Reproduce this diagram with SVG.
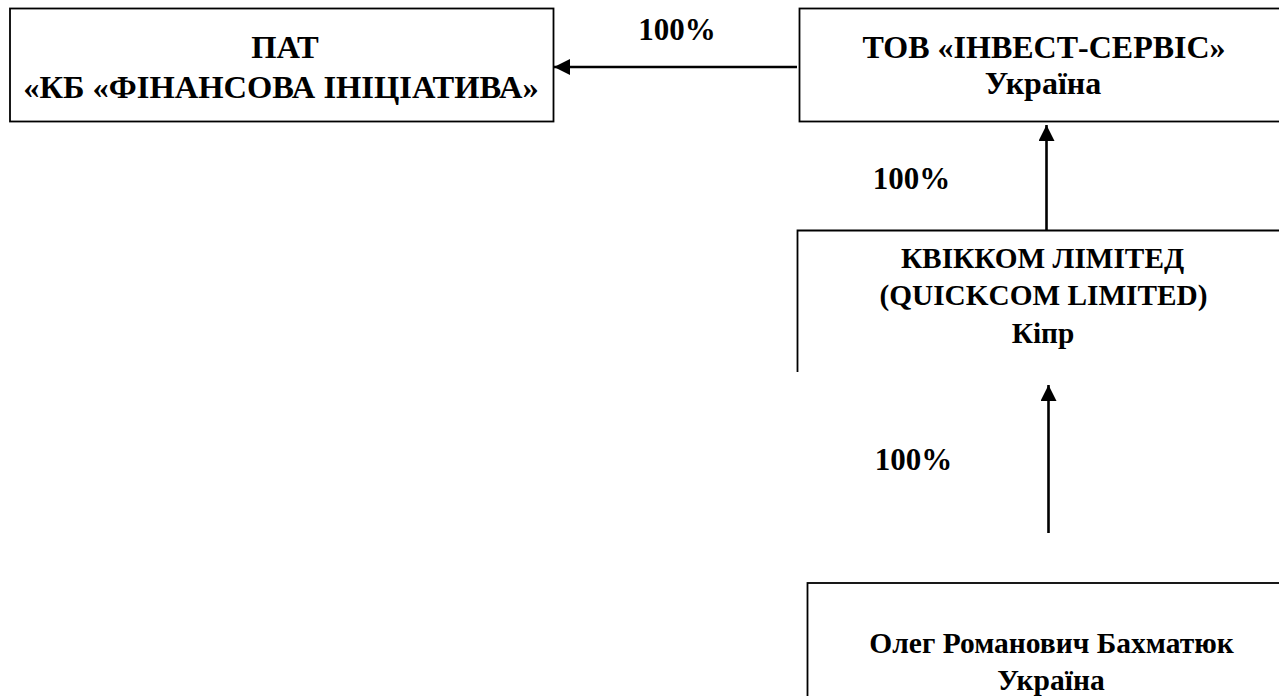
<svg xmlns="http://www.w3.org/2000/svg" width="1279" height="696" viewBox="0 0 1279 696">
<style>
.box{fill:#fff;stroke:#000;stroke-width:1.8}
.t{font-family:"Liberation Serif","Times New Roman",serif;font-weight:bold;fill:#000;text-anchor:middle}
.s1{font-size:32.5px}
.s2{font-size:32px}
.s3{font-size:29.3px}
.s4{font-size:29.5px}
.pct{font-size:31px}
.conn{stroke:#000;stroke-width:2.6;fill:none}
</style>
<defs>
<marker id="ah" viewBox="0 0 16 16" refX="16" refY="8" markerWidth="16" markerHeight="16" markerUnits="userSpaceOnUse" orient="auto">
<path d="M0,0 L16,8 L0,16 Z" fill="#000"/>
</marker>
</defs>
<rect width="1279" height="696" fill="#fff"/>
<g id="node-pat">
<rect class="box" x="10" y="8.5" width="543.5" height="113"/>
<text class="t s1" x="285" y="58">ПАТ</text>
<text class="t s1" x="281" y="98">«КБ «ФІНАНСОВА ІНІЦІАТИВА»</text>
</g>
<g id="node-tov">
<rect class="box" x="799.5" y="8.5" width="500" height="113"/>
<text class="t s2" x="1044" y="58">ТОВ «ІНВЕСТ-СЕРВІС»</text>
<text class="t s2" x="1043" y="94">Україна</text>
</g>
<g id="node-quickcom">
<path class="box" d="M797.5,372 V230.5 H1290" fill="none"/>
<text class="t s3" x="1042.5" y="268">КВІККОМ ЛІМІТЕД</text>
<text class="t s3" x="1043.5" y="305">(QUICKCOM LIMITED)</text>
<text class="t s3" x="1043" y="343">Кіпр</text>
</g>
<g id="node-person">
<rect class="box" x="807.5" y="583" width="500" height="130"/>
<text class="t s4" x="1051.5" y="653">Олег Романович Бахматюк</text>
<text class="t s4" x="1051" y="690">Україна</text>
</g>
<g id="connectors">
<line class="conn" x1="797" y1="67" x2="554" y2="67" marker-end="url(#ah)"/>
<text class="t pct" x="677" y="40">100%</text>
<line class="conn" x1="1046.5" y1="230" x2="1046.5" y2="125" marker-end="url(#ah)"/>
<text class="t pct" x="911.5" y="189">100%</text>
<line class="conn" x1="1048.5" y1="533" x2="1048.5" y2="385" marker-end="url(#ah)"/>
<text class="t pct" x="913.5" y="470">100%</text>
</g>
</svg>
